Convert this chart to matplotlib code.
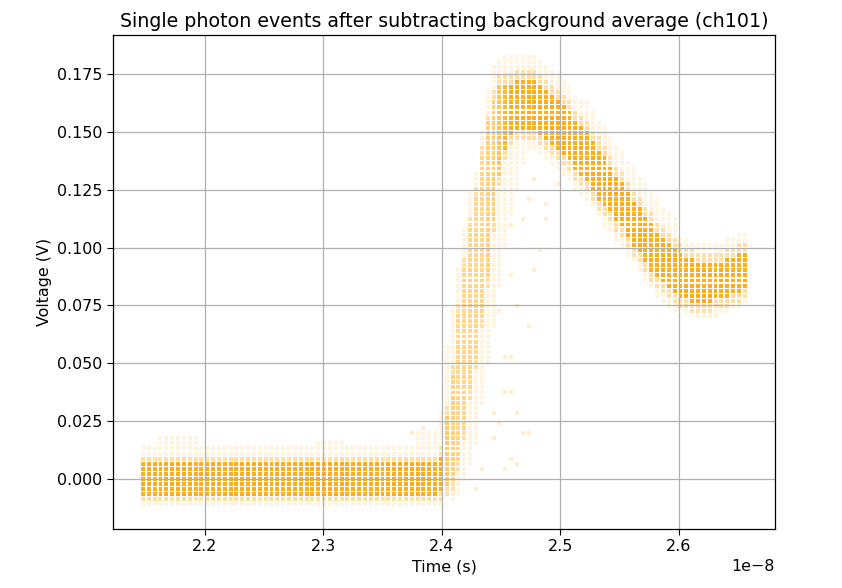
import numpy as np
import matplotlib
matplotlib.use('Agg')
import matplotlib.pyplot as plt
from matplotlib import rcParams

rcParams['font.size'] = 11.4
rcParams['axes.linewidth'] = 0.9
rcParams['grid.linewidth'] = 0.9
rcParams['xtick.major.size'] = 4
rcParams['ytick.major.size'] = 4

# Sample grid of the scope (units of 1e-8 s) and ADC voltage step (V)
t_start = 2.14768
t_step = 0.00493
n_samples = 104
v_step = 0.0022

# Band centre per sample (V)
v_center = [0.0] * 51 + [
    0.002, 0.012, 0.022, 0.039, 0.056, 0.073, 0.087, 0.104, 0.121, 0.138,
    0.150, 0.157, 0.160, 0.162, 0.162,
    0.162, 0.161, 0.159, 0.157, 0.155, 0.153, 0.151, 0.148, 0.145, 0.142,
    0.139, 0.135, 0.132, 0.128, 0.125, 0.121, 0.118, 0.114, 0.111, 0.107,
    0.104, 0.100, 0.097, 0.094, 0.092, 0.090, 0.088, 0.087, 0.086, 0.085,
    0.085, 0.085, 0.085, 0.086, 0.087, 0.088, 0.089, 0.090]

# half height of the dense part of the band
core_half = [0.0066] * 51 + [
    0.0075, 0.016, 0.024, 0.032, 0.035, 0.035, 0.035, 0.035, 0.033, 0.026,
    0.020, 0.014, 0.011, 0.011, 0.011] + [0.011] * 14 + [0.010] * 12 + [0.009] * 6 + [0.008] * 6

# how far the sparse points reach below / above the centre
faint_lo = [0.011] * 51 + [
    0.011, 0.018, 0.030, 0.045, 0.055, 0.065, 0.070, 0.070, 0.070, 0.070,
    0.065, 0.055, 0.045, 0.035, 0.025] + [0.018] * 10 + [0.016] * 16 + [0.013] * 12
faint_hi = [0.012] * 3 + [0.016] * 7 + [0.013] * 20 + [0.015] * 5 + [0.012] * 12 + [0.018] * 4 + [
    0.025, 0.045, 0.050, 0.050, 0.050, 0.050, 0.045, 0.045, 0.045, 0.040,
    0.030, 0.025, 0.022, 0.020, 0.020] + [0.020] * 10 + [0.022] * 16 + [0.015] * 12

# how dense the core looks (fewer overlapping events on the rising edge)
core_alpha = [0.9] * 51 + [
    0.9, 0.6, 0.5, 0.45, 0.45, 0.45, 0.45, 0.45, 0.5, 0.55,
    0.65, 0.8, 0.90, 0.90, 0.90] + [0.9] * 38

# stray late / early events (sample index, V)
stray_k = [62, 63, 60, 61, 63, 64, 62, 65, 66, 60, 63, 63, 62, 61, 64,
           65, 66, 69, 69, 67, 71, 63, 58, 57, 48, 46, 64, 66, 67, 68]
stray_v = [0.037, 0.037, 0.028, 0.024, 0.0095, 0.007, 0.005, 0.020, 0.020, 0.017,
           0.089, 0.052, 0.052, 0.072, 0.029, 0.113, 0.122, 0.119, 0.112, 0.130,
           0.128, 0.109, 0.004, -0.004, 0.022, 0.020, 0.075, 0.065, 0.090, 0.100]

assert len(v_center) == n_samples and len(core_half) == n_samples
assert len(faint_lo) == n_samples and len(faint_hi) == n_samples and len(core_alpha) == n_samples

times = (t_start + t_step * np.arange(n_samples)) * 1e-8

core_t, core_v, core_a = [], [], []
mid_t, mid_v = [], []
faint_t, faint_v = [], []
for k in range(n_samples):
    c = v_center[k]
    n_lo = int(np.floor((c - faint_lo[k]) / v_step))
    n_hi = int(np.ceil((c + faint_hi[k]) / v_step))
    for n in range(n_lo, n_hi + 1):
        v = n * v_step
        d = abs(v - c)
        if d <= core_half[k]:
            core_t.append(times[k]); core_v.append(v); core_a.append(core_alpha[k])
        elif d <= core_half[k] + 2 * v_step:
            mid_t.append(times[k]); mid_v.append(v)
        else:
            faint_t.append(times[k]); faint_v.append(v)

stray_t = [times[k] for k in stray_k]
stray_vq = [round(v / v_step) * v_step for v in stray_v]

fig = plt.figure(figsize=(8.42, 5.88), dpi=100)
ax = fig.add_axes([113 / 842, 1 - 529 / 588, 662 / 842, 494 / 588])

ms = 8
ax.scatter(faint_t, faint_v, s=ms, marker='s', linewidths=0, color='orange', alpha=0.12)
ax.scatter(stray_t, stray_vq, s=ms, marker='s', linewidths=0, color='orange', alpha=0.2)
ax.scatter(mid_t, mid_v, s=ms, marker='s', linewidths=0, color='orange', alpha=0.35)
core_rgba = np.zeros((len(core_a), 4))
core_rgba[:, :3] = matplotlib.colors.to_rgb('orange')
core_rgba[:, 3] = core_a
ax.scatter(core_t, core_v, s=ms, marker='s', linewidths=0, c=core_rgba)

ax.set_xlim(2.1224e-8, 2.681e-8)
ax.set_ylim(-0.0216, 0.1919)
ax.grid(True)
ax.set_xlabel('Time (s)')
ax.set_ylabel('Voltage (V)')
ax.set_title('Single photon events after subtracting background average (ch101)', fontsize=13.7)

fig.savefig('out.png', dpi=100)
